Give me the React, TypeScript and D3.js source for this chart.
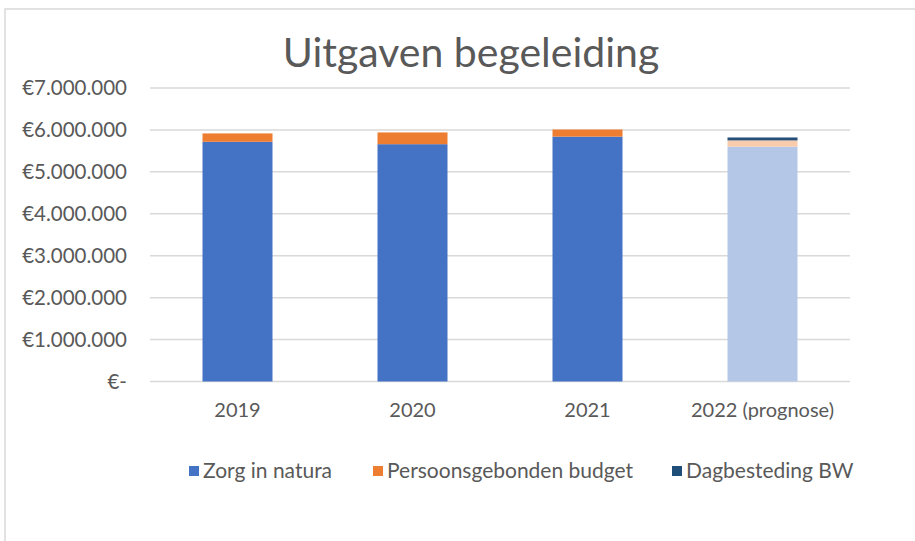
import { useEffect, useRef } from 'react';
import * as d3 from 'd3';

const years = ['2019', '2020', '2021', '2022 (prognose)'];
const zorgInNatura = [5717000, 5660000, 5840000, 5600000];
const pgb = [200000, 280000, 170000, 150000];
const dagbesteding = [0, 0, 0, 70000];
const seriesNames = ['Zorg in natura', 'Persoonsgebonden budget', 'Dagbesteding BW'];
const yTicks = [0, 1000000, 2000000, 3000000, 4000000, 5000000, 6000000, 7000000];

const colors = ['#4472C4', '#ED7D31', '#1F4E79'];
// prognose bar is drawn in lighter tints
const lightColors = ['#B4C7E7', '#F8CBAD', '#264E78'];

function App() {
    const svgRef = useRef<SVGSVGElement>(null);

    useEffect(() => {
        const width = 915;
        const height = 541;
        const margin = { left: 150, right: 65, top: 88, bottom: 160 };
        const font = 'Lato, "Open Sans", sans-serif';

        d3.select(svgRef.current).selectAll('*').remove();
        const svg = d3.select(svgRef.current)
            .attr('width', width)
            .attr('height', height)
            .style('position', 'absolute')
            .style('left', 0)
            .style('top', 0);

        svg.append('rect')
            .attr('x', 5).attr('y', 9)
            .attr('width', width + 10).attr('height', height + 10)
            .attr('fill', '#fff')
            .attr('stroke', '#D9D9D9')
            .attr('stroke-width', 1.5);

        const x = d3.scaleBand()
            .domain(years)
            .range([margin.left, width - margin.right])
            .paddingInner(0.6)
            .paddingOuter(0.3);

        const y = d3.scaleLinear()
            .domain([0, 7000000])
            .range([height - margin.bottom + 0.5, margin.top]);

        // gridlines
        svg.append('g')
            .selectAll('line')
            .data(yTicks)
            .join('line')
            .attr('x1', margin.left)
            .attr('x2', width - margin.right)
            .attr('y1', d => y(d))
            .attr('y2', d => y(d))
            .attr('stroke', '#D9D9D9')
            .attr('stroke-width', 1.5);

        svg.append('g')
            .selectAll('text')
            .data(yTicks)
            .join('text')
            .attr('x', 127)
            .attr('y', d => y(d))
            .attr('dy', '0.35em')
            .attr('text-anchor', 'end')
            .attr('font-family', font)
            .attr('font-size', 20.5)
            .attr('fill', '#595959')
            .text(d => d === 0 ? '€-' : '€' + d3.format(',')(d).replace(/,/g, '.'));

        const rows = years.map((yr, i) => ({
            year: yr, i,
            values: [zorgInNatura[i], pgb[i], dagbesteding[i]]
        }));

        const stack = d3.stack<any>()
            .keys([0, 1, 2] as any)
            .value((d: any, k: any) => d.values[k]);
        const stacked = stack(rows);

        stacked.forEach((layer, k) => {
            svg.append('g')
                .selectAll('rect')
                .data(layer)
                .join('rect')
                .attr('x', d => x(d.data.year)!)
                .attr('width', x.bandwidth())
                .attr('y', d => y(d[1]))
                .attr('height', d => y(d[0]) - y(d[1]))
                .attr('fill', d => d.data.i === 3 ? lightColors[k] : colors[k]);
        });

        svg.append('g')
            .selectAll('text')
            .data(years)
            .join('text')
            .attr('x', d => x(d)! + x.bandwidth() / 2)
            .attr('y', 417)
            .attr('text-anchor', 'middle')
            .attr('font-family', font)
            .attr('font-size', 20)
            .attr('fill', '#595959')
            .text(d => d);

        svg.append('text')
            .attr('x', 471)
            .attr('y', 67)
            .attr('text-anchor', 'middle')
            .attr('font-family', font)
            .attr('font-size', 41)
            .attr('fill', '#595959')
            .text('Uitgaven begeleiding');

        const legendX = [189, 373, 672];
        const legend = svg.append('g')
            .selectAll('g')
            .data(seriesNames)
            .join('g')
            .attr('transform', (d, i) => `translate(${legendX[i]}, 471)`);
        legend.append('rect')
            .attr('x', 0).attr('y', -5)
            .attr('width', 10).attr('height', 10)
            .attr('fill', (d, i) => colors[i]);
        legend.append('text')
            .attr('x', 14)
            .attr('dy', '0.35em')
            .attr('font-family', font)
            .attr('font-size', 21)
            .attr('fill', '#595959')
            .text(d => d);
    }, []);

    return <svg ref={svgRef} />;
}

export default App;
